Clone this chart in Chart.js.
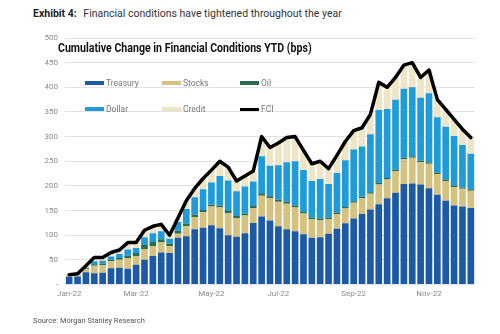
<!DOCTYPE html>
<html>
<head>
<meta charset="utf-8">
<script src="https://cdn.jsdelivr.net/npm/chart.js@4.4.1/dist/chart.umd.min.js"></script>
<style>
    body { margin: 0; background: #fff; font-family: Roboto, "Liberation Sans", sans-serif; }
    #wrap { position: relative; width: 500px; height: 334px; overflow: hidden; }
    #fciChart { position: absolute; left: 0; top: 0; }
    .exhibit { position: absolute; left: 33px; top: 7px; font-size: 10.5px; color: #333; white-space: nowrap; }
    .exhibit b { color: #222; margin-right: 4px; }
    .subtitle { position: absolute; left: 58px; top: 40px; font-size: 13px; font-weight: bold; color: #111;
        white-space: nowrap; transform-origin: 0 0; }
    .legend { position: absolute; font-size: 8.5px; color: #777; white-space: nowrap; }
    .legend i { display: inline-block; width: 19px; height: 4px; vertical-align: middle; margin-right: 2px; margin-top: -1px; }
    .source { position: absolute; left: 33px; top: 316px; font-size: 7.5px; color: #555; }
</style>
</head>
<body>
<div id="wrap">
    <div class="exhibit"><b>Exhibit 4:</b> Financial conditions have tightened throughout the year</div>
    <canvas id="fciChart" width="500" height="334"></canvas>
    <div class="subtitle" id="subtitle">Cumulative Change in Financial Conditions YTD (bps)</div>
    <div id="legend"></div>
    <div class="source">Source: Morgan Stanley Research</div>
</div>
<script>
// weekly buckets (week starting Monday), 2022
const weeks = [
    'Jan 3', 'Jan 10', 'Jan 17', 'Jan 24', 'Jan 31', 'Feb 7', 'Feb 14', 'Feb 21', 'Feb 28',
    'Mar 7', 'Mar 14', 'Mar 21', 'Mar 28', 'Apr 4', 'Apr 11', 'Apr 18', 'Apr 25',
    'May 2', 'May 9', 'May 16', 'May 23', 'May 30', 'Jun 6', 'Jun 13', 'Jun 20', 'Jun 27',
    'Jul 4', 'Jul 11', 'Jul 18', 'Jul 25', 'Aug 1', 'Aug 8', 'Aug 15', 'Aug 22', 'Aug 29',
    'Sep 5', 'Sep 12', 'Sep 19', 'Sep 26', 'Oct 3', 'Oct 10', 'Oct 17', 'Oct 24', 'Oct 31',
    'Nov 7', 'Nov 14', 'Nov 21', 'Nov 28', 'Dec 5'
];
const tickWeeks = [0, 8, 17, 25, 34, 43];
const tickLabels = ['Jan-22', 'Mar-22', 'May-22', 'Jul-22', 'Sep-22', 'Nov-22'];

// contributions in bps
const treasury = [15, 16, 25, 23, 24, 33, 34, 32, 40, 50, 58, 65, 64, 95, 98, 112, 115, 120, 114, 100, 97, 104, 125, 138, 130,
    118, 112, 108, 102, 95, 96, 103, 113, 124, 134, 143, 152, 163, 175, 186, 204, 205, 203, 195, 182, 170, 160, 158, 155];
const stocks = [2, 3, 6, 15, 15, 14, 16, 22, 18, 22, 20, 20, 14, 8, 20, 25, 32, 38, 42, 45, 38, 36, 30, 42, 45,
    50, 52, 48, 42, 38, 35, 30, 30, 30, 32, 32, 32, 40, 38, 44, 50, 52, 45, 50, 42, 40, 38, 36, 35];
const oil = [1, 1, 2, 3, 3, 3, 4, 5, 6, 8, 8, 7, 5, 6, 5, 5, 4, 4, 4, 4, 4, 4, 4, 5, 4,
    4, 4, 4, 3, 3, 3, 3, 3, 3, 3, 3, 3, 3, 3, 3, 3, 3, 3, 3, 3, 3, 3, 3, 3];
const dollar = [0, 0, 1, 6, 6, 7, 8, 12, 10, 16, 18, 16, 10, 18, 30, 35, 42, 45, 60, 62, 50, 55, 50, 75, 62,
    70, 80, 90, 85, 74, 80, 68, 80, 95, 105, 102, 118, 148, 140, 142, 140, 140, 128, 140, 112, 107, 100, 86, 72];
const credit = [2, 2, 4, 8, 7, 8, 8, 14, 11, 14, 14, 14, 7, 8, 17, 18, 22, 25, 30, 27, 21, 21, 21, 40, 37,
    45, 50, 50, 40, 35, 36, 31, 36, 38, 38, 38, 40, 56, 44, 45, 48, 50, 41, 47, 36, 35, 34, 32, 33];
const fci = [20, 22, 38, 55, 55, 65, 70, 85, 85, 110, 118, 122, 100, 135, 170, 195, 215, 232, 250, 238, 210, 220, 230, 300, 278,
    287, 298, 300, 272, 245, 250, 235, 262, 290, 312, 318, 345, 410, 400, 420, 445, 450, 420, 435, 375, 355, 335, 315, 298];

const colors = {
    Treasury: '#1c5aa6',
    Stocks: '#d6c27f',
    Oil: '#2b6d4e',
    Dollar: '#1f9bd9',
    Credit: '#ede5c6',
    FCI: '#000000'
};

function barSet(label, values) {
    return {
        type: 'bar',
        label: label,
        data: values,
        backgroundColor: colors[label],
        stack: 'parts',
        barPercentage: 0.8,
        categoryPercentage: 1,
        order: 2
    };
}

const data = {
    labels: weeks,
    datasets: [
        barSet('Treasury', treasury),
        barSet('Stocks', stocks),
        barSet('Oil', oil),
        barSet('Dollar', dollar),
        barSet('Credit', credit),
        {
            type: 'line',
            label: 'FCI',
            data: fci,
            borderColor: colors.FCI,
            borderWidth: 3.5,
            borderJoinStyle: 'round',
            borderCapStyle: 'round',
            pointRadius: 0,
            tension: 0,
            stack: 'line',
            order: 1
        }
    ]
};

const config = {
    type: 'bar',
    data: data,
    options: {
        responsive: false,
        animation: false,
        layout: { padding: { left: 0, right: 25, top: 38, bottom: 30 } },
        plugins: {
            legend: { display: false },
            tooltip: { enabled: false }
        },
        scales: {
            x: {
                stacked: true,
                grid: { display: false, drawTicks: false },
                border: { display: false },
                afterFit: function (scale) { scale.height = 19.5; },
                ticks: {
                    autoSkip: false,
                    maxRotation: 0,
                    padding: 5,
                    color: '#8a8a8a',
                    font: { family: 'Roboto', size: 8 },
                    callback: function (value, index) {
                        const k = tickWeeks.indexOf(index);
                        return k >= 0 ? tickLabels[k] : '';
                    }
                }
            },
            y: {
                stacked: true,
                min: 0,
                max: 500,
                afterFit: function (scale) { scale.width = 65; },
                grid: { color: '#e2e2e2', drawTicks: false, lineWidth: 1 },
                border: { display: false },
                ticks: {
                    stepSize: 50,
                    padding: 7,
                    color: '#8a8a8a',
                    font: { family: 'Roboto', size: 8 },
                    callback: function (value) { return value === 0 ? '-' : value; }
                }
            }
        }
    }
};

let ctx = document.getElementById('fciChart').getContext('2d');
new Chart(ctx, config);

// legend, two rows of three, inside the plot
const legendItems = [
    ['Treasury', 85, 84], ['Stocks', 162, 84], ['Oil', 240, 84],
    ['Dollar', 85, 110], ['Credit', 162, 110], ['FCI', 240, 110]
];
const legend = document.getElementById('legend');
legendItems.forEach(function (item) {
    const el = document.createElement('div');
    el.className = 'legend';
    el.style.left = item[1] + 'px';
    el.style.top = (item[2] - 6) + 'px';
    const sw = document.createElement('i');
    sw.style.background = colors[item[0]];
    if (item[0] === 'FCI') { sw.style.height = '3px'; }
    el.appendChild(sw);
    el.appendChild(document.createTextNode(item[0]));
    legend.appendChild(el);
});

// condensed look for the chart heading
const sub = document.getElementById('subtitle');
sub.style.transform = 'scaleX(' + (254 / sub.offsetWidth) + ')';
</script>
</body>
</html>
